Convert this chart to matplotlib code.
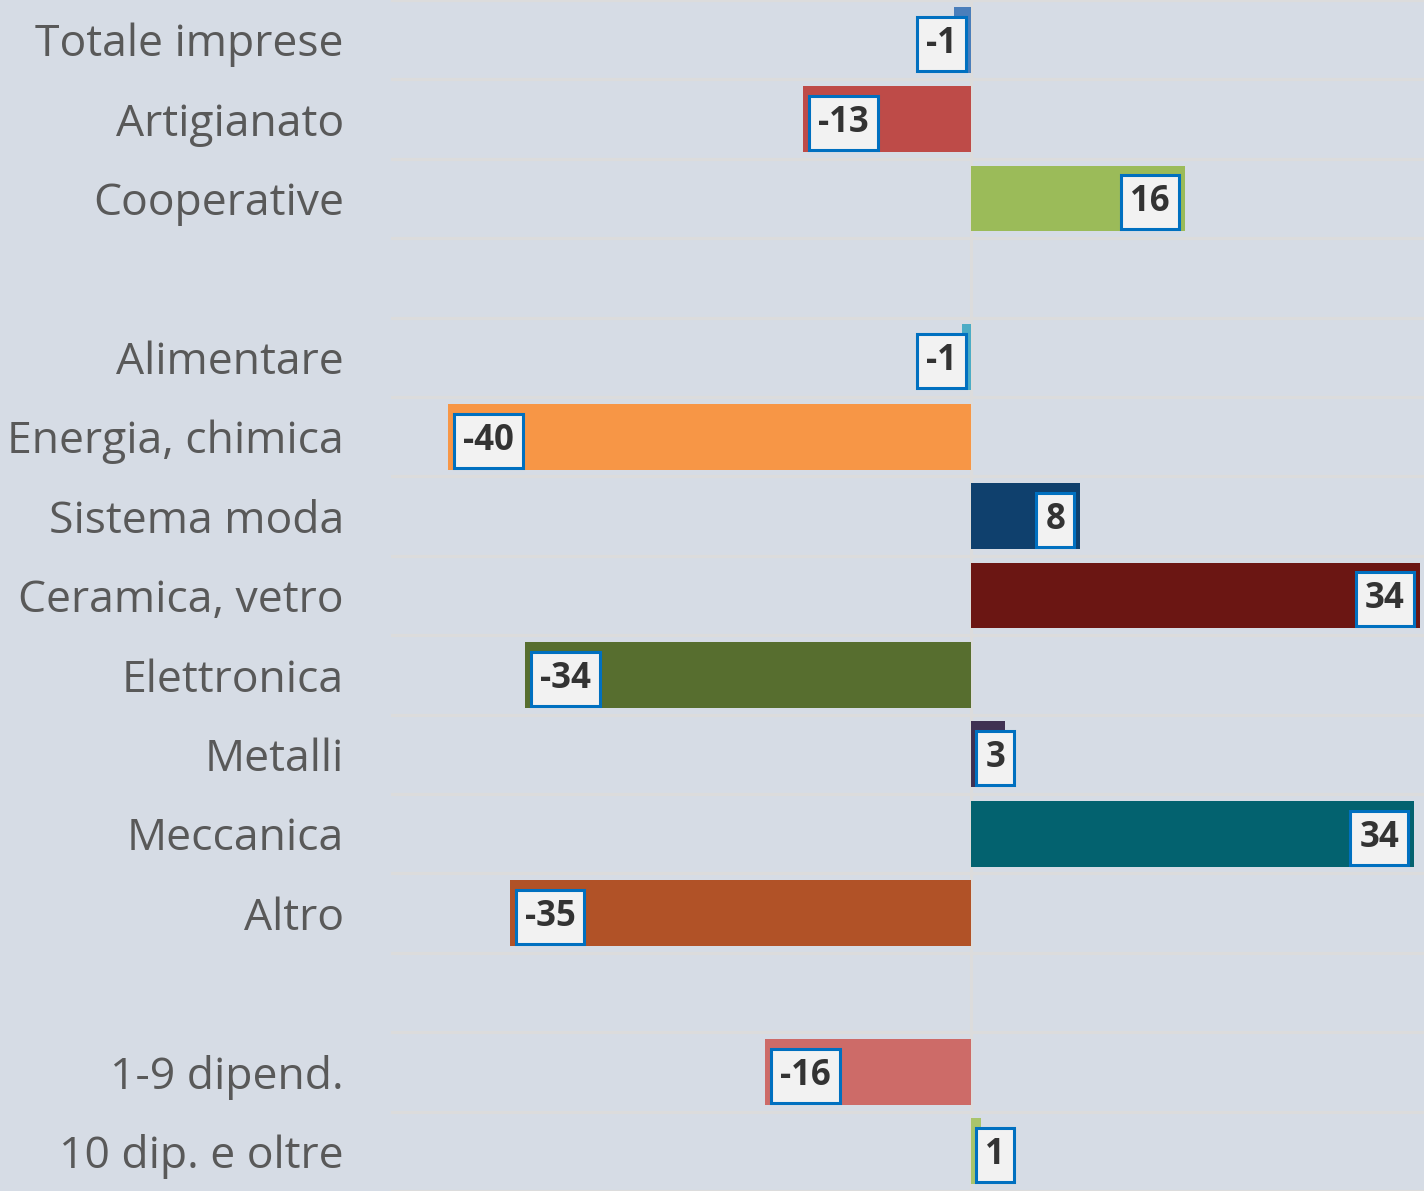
# Saldo tendenze per settore e dimensione (barre orizzontali)

import numpy as np
import matplotlib.pyplot as plt

categories = ["Totale imprese", "Artigianato", "Cooperative", "",
              "Alimentare", "Energia, chimica", "Sistema moda", "Ceramica, vetro",
              "Elettronica", "Metalli", "Meccanica", "Altro", "",
              "1-9 dipend.", "10 dip. e oltre"]
values = [-1.3, -12.9, 16.4, np.nan,
          -0.7, -40.1, 8.4, 34.45,
          -34.2, 2.6, 34.0, -35.4, np.nan,
          -15.8, 0.8]
colors = ["#4a7ebb", "#be4b48", "#9bbb59", "#ffffff",
          "#4bacc6", "#f79646", "#0f406d", "#6b1613",
          "#576e2f", "#403152", "#03626f", "#b15227", "#ffffff",
          "#cd6b68", "#a9c46b"]

bg = "#d6dce5"
grid_col = "#dcdcdc"

fig = plt.figure(figsize=(14.24, 11.91), dpi=100, facecolor=bg)
ax = fig.add_axes([391 / 1424, 0, 1033 / 1424, 1])
ax.set_facecolor(bg)

y = np.arange(len(categories))
for yi, v, c in zip(y, values, colors):
    if np.isnan(v):
        continue
    ax.barh(yi, v, height=0.83, color=c, zorder=3)

ax.set_xlim(-44.5, 34.77)
ax.set_ylim(len(categories) - 0.5, -0.5)

# separatori tra le righe e linea dello zero
for k in range(len(categories) + 1):
    ax.axhline(k - 0.5, color=grid_col, lw=2.2, zorder=1)
ax.axvline(0, color=grid_col, lw=2.2, zorder=2)

ax.set_yticks(y)
ax.set_yticklabels(categories, fontsize=32, color="#595959", family="Open Sans")
ax.tick_params(axis="y", length=0, pad=34)
ax.set_xticks([])
for s in ax.spines.values():
    s.set_visible(False)

# etichette dei valori
box = dict(boxstyle="square,pad=0.26", fc="#f2f2f2", ec="#0070c0", lw=2.2)
for yi, v in zip(y, values):
    if np.isnan(v):
        continue
    txt = f"{v:.0f}"
    if v < 0:
        if abs(v) > 6:
            x, ha = v + 1.15, "left"
        else:
            x, ha = -1.1, "right"
    else:
        if v > 6:
            x, ha = v - 1.15, "right"
        else:
            x, ha = 1.1, "left"
    ax.text(x, yi + 0.05, txt, ha=ha, va="center", fontsize=25, fontweight="bold",
            color="#333333", family="Open Sans", bbox=box, zorder=5)

fig.savefig("out.png", dpi=100, facecolor=bg)
